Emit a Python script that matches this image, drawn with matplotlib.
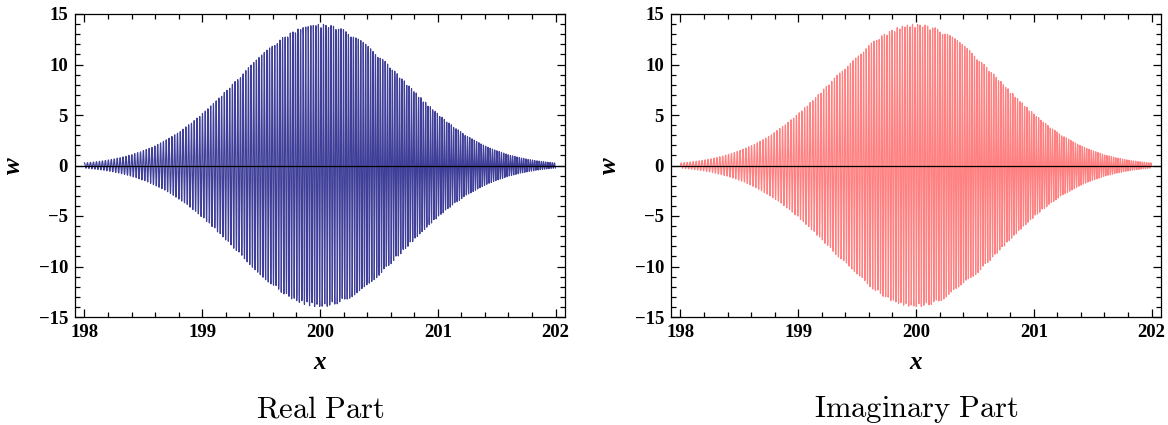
import numpy as np
import matplotlib
matplotlib.use('Agg')
import matplotlib.pyplot as plt
from matplotlib.ticker import MultipleLocator

# Values
peak_w = 14.0        # envelope maximum
centre_x = 200.0     # envelope centre
width_x = 1.0        # envelope falls to 1/e at +-1
x_range = [198.0, 202.0]
n_samples = 2500
k0 = 245.0           # carrier wavenumber, a few pixels per period
chirp = 12.0
panel_titles = ["Real Part", "Imaginary Part"]
colors = ["#3f3f99", "#ff8080"]
x_ticks = [198, 199, 200, 201, 202]
y_ticks = [-15, -10, -5, 0, 5, 10, 15]

x = np.linspace(x_range[0], x_range[1], n_samples)
env = peak_w * np.exp(-((x - centre_x) / width_x) ** 2)
phase = k0 * (x - x_range[0]) + chirp * (x - x_range[0]) ** 2
w = env * np.exp(1j * phase)
parts = [w.real, w.imag]

fig = plt.figure(figsize=(11.68, 4.25), dpi=100)
plt.rcParams['mathtext.fontset'] = 'cm'

tick_font = dict(family='Liberation Serif', weight='bold', size=13.5)
lefts = [75 / 1168, 671 / 1168]

for i in range(2):
    ax = fig.add_axes([lefts[i], 1 - 317 / 425, 490 / 1168, 303 / 425])
    ax.plot(x, parts[i], color=colors[i], lw=0.85, antialiased=True)
    ax.axhline(0, color='black', lw=0.9, zorder=3)
    ax.set_xlim(197.92, 202.08)
    ax.set_ylim(-15, 15)
    ax.set_xticks(x_ticks)
    ax.set_yticks(y_ticks)
    ax.xaxis.set_minor_locator(MultipleLocator(0.2))
    ax.yaxis.set_minor_locator(MultipleLocator(1))
    ax.tick_params(which='both', direction='in', top=True, right=True, width=0.9)
    ax.tick_params(which='major', length=6, pad=5)
    ax.tick_params(which='minor', length=3.5)
    ax.set_xticklabels([str(t) for t in x_ticks], **tick_font)
    ax.set_yticklabels([("\u2212" + str(-t)) if t < 0 else str(t) for t in y_ticks], **tick_font)
    for sp in ax.spines.values():
        sp.set_linewidth(0.9)
    ax.set_xlabel("x", family='Liberation Serif', weight='bold', style='italic', size=18, labelpad=7)
    ax.set_ylabel("w", family='Liberation Serif', weight='bold', style='italic', size=18, labelpad=10)
    ax.text(0.5, -0.305, r"$\mathrm{" + panel_titles[i].replace(" ", r"\ ") + "}$",
            transform=ax.transAxes, ha='center', va='center', size=22)

fig.savefig("out.png", dpi=100)
